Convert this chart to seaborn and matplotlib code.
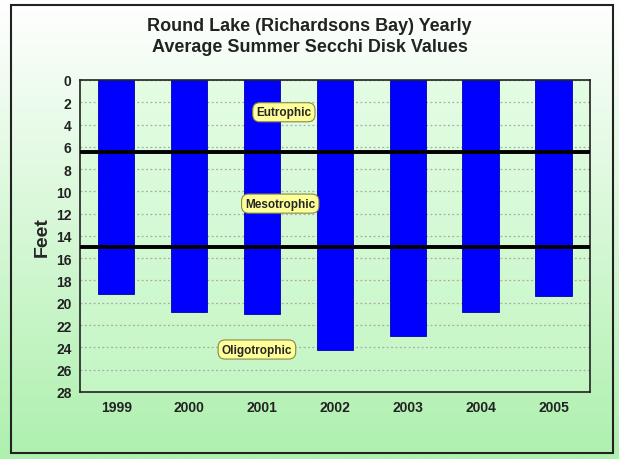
import numpy as np
import pandas as pd
import matplotlib
matplotlib.use('Agg')
import matplotlib.pyplot as plt
import seaborn as sns
from matplotlib.patches import Rectangle

# data
years = ['1999', '2000', '2001', '2002', '2003', '2004', '2005']
secchi = [19.2, 20.8, 21.0, 24.2, 23.0, 20.8, 19.4]
zone_limits = [6.5, 15]
zone_names = ['Eutrophic', 'Mesotrophic', 'Oligotrophic']
zone_label_x = [2.3, 2.25, 1.93]
zone_label_y = [2.9, 11.1, 24.2]

df = pd.DataFrame({'year': years, 'feet': secchi})

sns.set_style('white')
plt.rcParams['font.family'] = ['Liberation Sans', 'DejaVu Sans']

fig = plt.figure(figsize=(6.19, 4.6), dpi=100)

# background gradient for whole figure
bg = fig.add_axes([0, 0, 1, 1], zorder=-10)
grad = np.linspace(0, 1, 256).reshape(-1, 1)
cmap_bg = matplotlib.colors.LinearSegmentedColormap.from_list('bg', ['#ffffff', '#aef0ae'])
bg.imshow(grad, aspect='auto', cmap=cmap_bg, extent=[0, 1, 0, 1], origin='upper')
bg.add_patch(Rectangle((0.018, 0.012), 0.972, 0.975, fill=False, edgecolor='#222222', lw=1.5, transform=bg.transAxes))
bg.set_axis_off()

ax = fig.add_axes([0.129, 0.146, 0.824, 0.678])
# plot area gradient
cmap_ax = matplotlib.colors.LinearSegmentedColormap.from_list('ax', ['#e4fde4', '#c4f6c4'])
ax.imshow(grad, aspect='auto', cmap=cmap_ax, extent=[-0.5, 6.5, 28, 0], origin='upper', zorder=0)

sns.barplot(data=df, x='year', y='feet', color='#0000ff', width=0.5, saturation=1,
            edgecolor='#0000aa', linewidth=0.6, ax=ax, zorder=2)

ax.set_xlim(-0.5, 6.5)
ax.set_ylim(28, 0)
ax.set_yticks(np.arange(0, 29, 2))
ax.yaxis.grid(True, linestyle=(0, (1.5, 2)), color='#aaaaaa', linewidth=0.9, zorder=1)
ax.set_axisbelow(True)

for y in zone_limits:
    ax.axhline(y, color='black', lw=2.8, zorder=3)

for name, x, y in zip(zone_names, zone_label_x, zone_label_y):
    ax.text(x, y, name, ha='center', va='center', fontsize=8.5, fontweight='bold', zorder=4,
            bbox=dict(boxstyle='round,pad=0.3,rounding_size=0.6', fc='#ffff99', ec='#888844', lw=0.8))

for s in ax.spines.values():
    s.set_color('#222222')
    s.set_linewidth(1.2)

ax.set_xlabel('')
ax.set_ylabel('Feet', fontsize=14, fontweight='bold', labelpad=4)
ax.tick_params(axis='both', labelsize=10, length=0, pad=6)
for lbl in ax.get_xticklabels() + ax.get_yticklabels():
    lbl.set_fontweight('bold')
    lbl.set_color('#222222')

fig.text(0.5, 0.92, 'Round Lake (Richardsons Bay) Yearly\nAverage Summer Secchi Disk Values',
         ha='center', va='center', fontsize=13, fontweight='bold', color='#222222', linespacing=1.35)

fig.savefig('out.png', dpi=100)
